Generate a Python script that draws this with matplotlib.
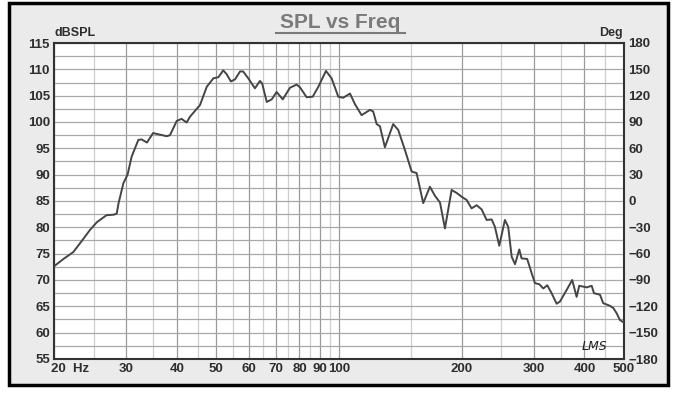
import numpy as np
import matplotlib
matplotlib.use('Agg')
import matplotlib.pyplot as plt
import matplotlib.transforms as mtransforms
from matplotlib.patches import Rectangle
from matplotlib.ticker import FixedLocator, NullFormatter

# SPL response (Hz, dBSPL)
freq = [20.0, 21.1, 22.3, 23.6, 24.5, 25.5, 26.9, 28.0, 28.5, 28.8, 29.6, 30.3,
        31.0, 32.2, 32.8, 33.8, 35.0, 37.8, 38.5, 40.0, 41.1, 42.3, 43.1, 45.6,
        47.4, 49.2, 50.6, 52.0, 53.0, 54.3, 55.6, 57.2, 58.2, 59.9, 62.2, 64.0,
        64.8, 66.5, 68.4, 70.3, 72.8, 75.8, 78.7, 80.2, 83.3, 86.2, 89.0, 92.9,
        95.9, 99.6, 102.4, 106.4, 109.4, 113.6, 119.1, 121.3, 123.7, 126.0, 129.6,
        135.8, 139.7, 145.1, 150.7, 155.0, 160.9, 167.1, 171.9, 176.9, 181.9, 188.9,
        194.6, 199.9, 205.6, 211.4, 217.6, 223.8, 230.2, 236.8, 241.2, 247.2, 255.2,
        260.0, 265.2, 270.2, 276.8, 280.4, 289.4, 296.8, 302.4, 309.8, 317.0, 324.2,
        332.2, 341.8, 348.2, 361.6, 373.2, 382.6, 388.4, 405.0, 416.6, 422.0, 436.6,
        444.6, 461.8, 470.4, 479.6, 488.6, 500.0]
spl = [72.6, 74.0, 75.3, 77.8, 79.5, 81.0, 82.3, 82.4, 82.6, 84.6, 88.4, 90.0,
       93.4, 96.6, 96.7, 96.1, 97.9, 97.3, 97.5, 100.2, 100.6, 99.9, 101.0, 103.2,
       106.7, 108.3, 108.5, 109.8, 109.1, 107.7, 108.1, 109.6, 109.6, 108.3, 106.4, 107.8,
       107.3, 103.8, 104.3, 105.7, 104.3, 106.5, 107.1, 106.6, 104.7, 104.8, 106.7, 109.7,
       108.3, 104.8, 104.6, 105.4, 103.4, 101.3, 102.3, 102.0, 99.6, 99.2, 95.2,
       99.6, 98.5, 94.7, 90.6, 90.3, 84.6, 87.7, 86.0, 84.7, 79.8, 87.1,
       86.5, 85.8, 85.2, 83.6, 84.2, 83.4, 81.4, 81.5, 80.1, 76.5, 81.4,
       80.1, 74.4, 73.0, 75.8, 74.1, 74.0, 71.3, 69.4, 69.2, 68.4, 69.0,
       67.5, 65.5, 65.9, 68.1, 70.0, 66.8, 68.9, 68.6, 68.9, 67.5, 67.2,
       65.6, 65.1, 64.7, 63.7, 62.4, 61.9]

x_ticks = [20, 30, 40, 50, 60, 70, 80, 90, 100, 200, 300, 400, 500]
x_labels = ['20  Hz', '30', '40', '50', '60', '70', '80', '90', '100', '200', '300', '400', '500']
x_minor = [25, 35, 45, 55, 65, 75, 85, 95, 150, 250, 350, 450]
db_ticks = list(range(55, 116, 5))
deg_ticks = list(range(-180, 181, 30))

plt.rcParams['font.family'] = ['Liberation Sans', 'DejaVu Sans']
plt.rcParams['font.weight'] = 'bold'

fig = plt.figure(figsize=(6.9, 3.93), dpi=100)
fig.patch.set_facecolor('white')
# outer panel with black frame
fig.patches.append(Rectangle((9 / 690, 8 / 393), 659 / 690, 382 / 393, transform=fig.transFigure,
                             facecolor='#ebebeb', edgecolor='black', linewidth=2.5, zorder=-5))

ax1 = fig.add_axes([54 / 690, 34 / 393, 570 / 690, 316 / 393])
ax1.set_facecolor('white')
ax1.set_xscale('log')
ax1.set_xlim(20, 500)
ax1.set_ylim(55, 115)

# grid
for f in x_ticks:
    ax1.axvline(f, color='#9a9a9a', lw=0.9, zorder=1)
for f in x_minor:
    ax1.axvline(f, color='#cfcfcf', lw=0.9, zorder=1)
for d in np.arange(55, 115.1, 2.5):
    ax1.axhline(d, color='#a8a8a8', lw=0.9, zorder=1)

ax1.plot(freq, spl, color='#454545', lw=1.4, zorder=3, solid_joinstyle='round')

ax1.xaxis.set_major_locator(FixedLocator(x_ticks))
ax1.xaxis.set_minor_locator(FixedLocator(x_minor))
ax1.xaxis.set_minor_formatter(NullFormatter())
ax1.set_xticklabels(x_labels)
ax1.set_yticks(db_ticks)
ax1.tick_params(axis='both', which='both', length=0, labelsize=9.5, colors='#2e2e2e')
ax1.tick_params(axis='x', pad=3)
ax1.tick_params(axis='y', pad=3)
for lbl in ax1.get_xticklabels():
    lbl.set_fontweight('bold')
for lbl in ax1.get_yticklabels():
    lbl.set_fontweight('bold')
first = ax1.get_xticklabels()[0]
first.set_horizontalalignment('left')
first.set_transform(first.get_transform() + mtransforms.ScaledTranslation(-3 / 100, 0, fig.dpi_scale_trans))
for s in ax1.spines.values():
    s.set_color('#333333')
    s.set_linewidth(1.5)

ax2 = ax1.twinx()
ax2.set_ylim(-180, 180)
ax2.set_yticks(deg_ticks)
ax2.tick_params(axis='y', length=0, labelsize=9.5, colors='#2e2e2e', pad=3)
for lbl in ax2.get_yticklabels():
    lbl.set_fontweight('bold')
for s in ax2.spines.values():
    s.set_visible(False)

ax1.text(0.0, 1.012, 'dBSPL', transform=ax1.transAxes, fontsize=9, fontweight='bold',
         color='#2e2e2e', ha='left', va='bottom')
ax1.text(0.998, 1.012, 'Deg', transform=ax1.transAxes, fontsize=9, fontweight='bold',
         color='#2e2e2e', ha='right', va='bottom')
fig.text(340 / 690, 1 - 22 / 393, 'SPL vs Freq', fontsize=15, fontweight='bold',
         color='#7a7a7a', ha='center', va='center')
fig.add_artist(plt.Line2D([276 / 690, 405 / 690], [1 - 33 / 393, 1 - 33 / 393],
                          color='#7a7a7a', lw=1.5))
ax1.text(0.97, 0.02, 'LMS', transform=ax1.transAxes, fontsize=9, style='italic',
         fontweight='light', family='DejaVu Sans', color='#222222', ha='right', va='bottom')

fig.savefig('out.png', dpi=100)
